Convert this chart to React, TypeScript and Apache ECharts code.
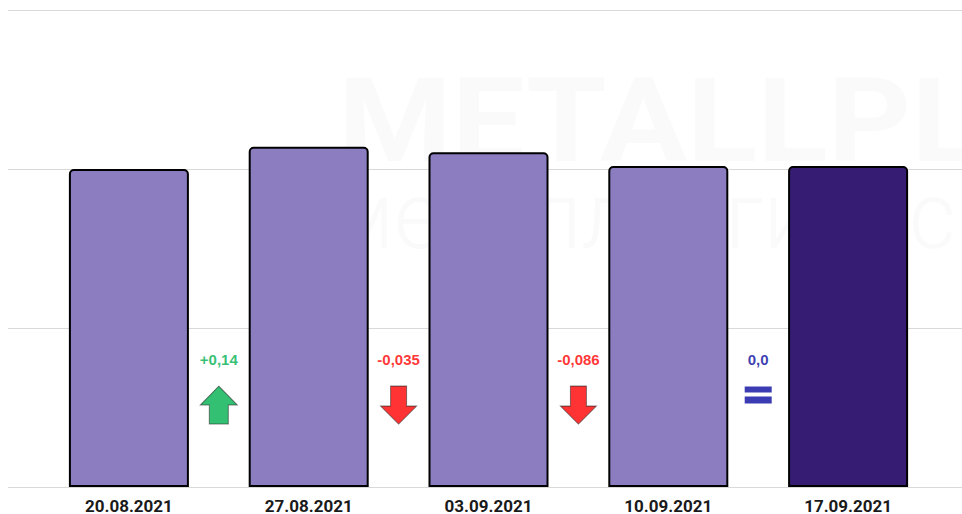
import React, { useEffect, useRef } from "react";
import * as echarts from "echarts";

const categories = ["20.08.2021", "27.08.2021", "03.09.2021", "10.09.2021", "17.09.2021"];
const values = [2.0, 2.14, 2.105, 2.019, 2.019];
const changes = ["+0,14", "-0,035", "-0,086", "0,0"];

const LIGHT = "#8C7DC0";
const DARK = "#361C73";
const UP = "#00B050";
const DOWN = "#FF0000";
const FLAT = "#0A0AA0";

const UP_PATH = "path://M18.5,0 L37,19 L28,19 L28,38 L9,38 L9,19 L0,19 Z";
const DOWN_PATH = "path://M10,0 L26,0 L26,20 L36,20 L18,38 L0,20 L10,20 Z";
const EQ_PATH = "path://M0,0 L27,0 L27,6 L0,6 Z M0,10 L27,10 L27,17 L0,17 Z";

export default function App() {
  const ref = useRef<HTMLDivElement>(null);
  useEffect(() => {
    if (!ref.current) return;
    const chart = echarts.init(ref.current, null, { renderer: "svg" });
    const dir = (s: string) => (s.startsWith("+") ? 1 : s.startsWith("-") ? -1 : 0);
    const colorOf = (s: string) => (dir(s) > 0 ? UP : dir(s) < 0 ? DOWN : FLAT);
    const labelY = 0.8;
    const iconY = 0.515;
    chart.setOption({
      animation: false,
      backgroundColor: "#ffffff",
      graphic: [
        {
          type: "text",
          x: 338,
          y: 62,
          scaleX: 1.11,
          z: -10,
          silent: true,
          style: {
            text: "METALLPLACE",
            fontFamily: "Roboto",
            fontWeight: "bold",
            fontSize: 117,
            fill: "#FAFAFA",
          },
        },
        {
          type: "text",
          x: 328,
          y: 168,
          scaleX: 0.95,
          z: -10,
          silent: true,
          style: {
            text: "металлургический",
            fontFamily: "Roboto",
            fontWeight: 300,
            fontSize: 95,
            fill: "#FAFAFA",
          },
        },
      ],
      grid: [
        { left: 8, right: 0, top: 10, bottom: 27 },
        { left: 39, right: 24, top: 10, bottom: 27 },
      ],
      xAxis: [
        { type: "value", gridIndex: 0, show: false, min: 0, max: 1 },
        {
          type: "category",
          gridIndex: 1,
          data: categories,
          axisLine: { show: false },
          axisTick: { show: false },
          axisLabel: {
            margin: 10,
            fontFamily: "Roboto",
            fontWeight: "bold",
            fontSize: 17,
            color: "#1a1a1a",
          },
        },
        { type: "value", gridIndex: 1, show: false, min: -0.5, max: 4.5 },
      ],
      yAxis: [
        {
          type: "value",
          gridIndex: 0,
          min: 0,
          max: 3,
          interval: 1,
          axisLabel: { show: false },
          axisLine: { show: false },
          axisTick: { show: false },
          splitLine: { show: true, lineStyle: { color: "#d9d9d9", width: 1 } },
        },
        {
          type: "value",
          gridIndex: 1,
          min: 0,
          max: 3,
          interval: 1,
          show: false,
          splitLine: { show: false },
        },
      ],
      series: [
        {
          type: "bar",
          xAxisIndex: 1,
          yAxisIndex: 1,
          barWidth: 120,
          z: 3,
          data: values.map((v, i) => ({
            value: v,
            itemStyle: { color: i === values.length - 1 ? DARK : LIGHT },
          })),
          itemStyle: {
            borderColor: "#000000",
            borderWidth: 2,
            borderRadius: [4, 4, 0, 0],
          },
        },
        {
          type: "scatter",
          xAxisIndex: 2,
          yAxisIndex: 1,
          z: 4,
          symbolSize: 1,
          itemStyle: { color: "transparent" },
          data: changes.map((c, i) => ({
            value: [i + 0.5, labelY],
            label: {
              show: true,
              position: "inside",
              formatter: c,
              fontFamily: "Liberation Sans",
              fontWeight: "bold",
              fontSize: 15,
              color: colorOf(c),
            },
          })),
        },
        {
          type: "scatter",
          xAxisIndex: 2,
          yAxisIndex: 1,
          z: 4,
          data: changes.map((c, i) => {
            const d = dir(c);
            return {
              value: [i + 0.5, iconY],
              symbol: d > 0 ? UP_PATH : d < 0 ? DOWN_PATH : EQ_PATH,
              symbolSize: d > 0 ? [37, 38] : d < 0 ? [36, 38] : [27, 17],
              symbolOffset: d === 0 ? [0, -10] : [0, 0],
              itemStyle: {
                color: colorOf(c),
                borderColor: d === 0 ? colorOf(c) : "rgba(40,40,40,0.7)",
                borderWidth: d === 0 ? 0 : 1,
              },
            };
          }),
        },
      ],
    });
    return () => chart.dispose();
  }, []);
  return <div ref={ref} style={{ width: 962, height: 514, position: "absolute", left: 0, top: 0 }} />;
}
